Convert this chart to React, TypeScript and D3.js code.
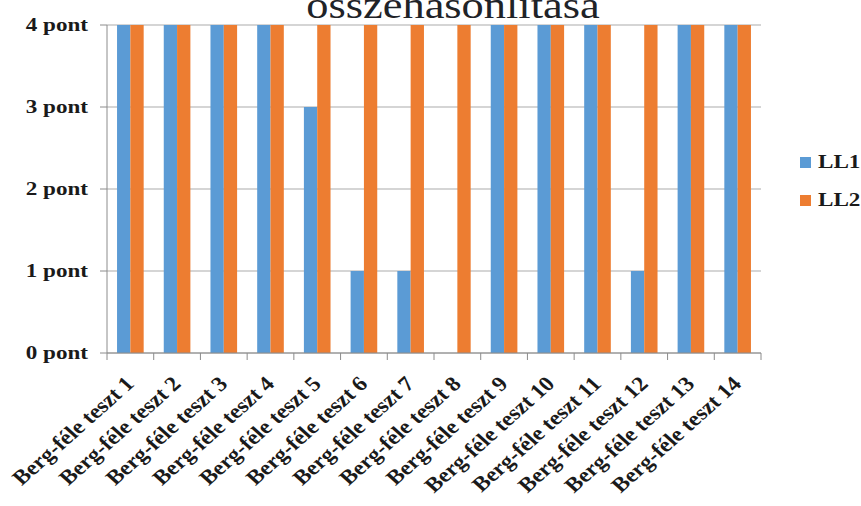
import React from "react";
import * as d3 from "d3";

const categories = [
  "Berg-féle teszt 1", "Berg-féle teszt 2", "Berg-féle teszt 3", "Berg-féle teszt 4",
  "Berg-féle teszt 5", "Berg-féle teszt 6", "Berg-féle teszt 7", "Berg-féle teszt 8",
  "Berg-féle teszt 9", "Berg-féle teszt 10", "Berg-féle teszt 11", "Berg-féle teszt 12",
  "Berg-féle teszt 13", "Berg-féle teszt 14",
];
const seriesNames = ["LL1", "LL2"];
const ll1 = [4, 4, 4, 4, 3, 1, 1, 0, 4, 4, 4, 1, 4, 4];
const ll2 = [4, 4, 4, 4, 4, 4, 4, 4, 4, 4, 4, 4, 4, 4];
const yTicks = [0, 1, 2, 3, 4];
const yTickLabels = ["0 pont", "1 pont", "2 pont", "3 pont", "4 pont"];
const title = "összehasonlítása";

const colors = ["#5B9BD5", "#ED7D31"];
const FONT = "Liberation Serif";
const SX = 1.2;
const SXY = 1.25;
const SXL = 1.12;

export default function App() {
  const W = 861, H = 506;
  const left = 107, right = 761, top = 25, bottom = 353;
  const x = d3.scaleBand<string>().domain(categories).range([left, right]).paddingInner(0.43).paddingOuter(0.215);
  const x1 = d3.scaleBand<string>().domain(seriesNames).range([0, x.bandwidth()]);
  const y = d3.scaleLinear().domain([0, 4]).range([bottom, top]);
  const step = x.step();
  const series = [ll1, ll2];

  return (
    <svg width={W} height={H} style={{ position: "absolute", left: 0, top: 0, background: "#fff" }}>
      <text
        transform={`translate(453,18) scale(${SX},1)`}
        textAnchor="middle"
        fontFamily={FONT}
        fontSize={37}
        fill="#1f2328"
      >
        {title}
      </text>
      {yTicks.map((t) => (
        <line key={"g" + t} x1={left} x2={right} y1={y(t)} y2={y(t)} stroke="#ABABAB" strokeWidth={1} />
      ))}
      {yTicks.map((t) => (
        <line key={"yt" + t} x1={left - 7} x2={left} y1={y(t)} y2={y(t)} stroke="#8C8C8C" strokeWidth={1} />
      ))}
      <line x1={left} x2={left} y1={top} y2={bottom} stroke="#8C8C8C" />
      {series.map((vals, si) =>
        categories.map((c, i) => (
          <rect
            key={si + "-" + i}
            x={(x(c) as number) + (x1(seriesNames[si]) as number)}
            y={y(vals[i])}
            width={x1.bandwidth()}
            height={bottom - y(vals[i])}
            fill={colors[si]}
          />
        ))
      )}
      <line x1={left} x2={right} y1={bottom} y2={bottom} stroke="#8C8C8C" />
      {d3.range(categories.length + 1).map((i) => (
        <line key={"xt" + i} x1={left + i * step} x2={left + i * step} y1={bottom} y2={bottom + 7} stroke="#8C8C8C" />
      ))}
      {yTicks.map((t, i) => (
        <text
          key={"yl" + t}
          transform={`translate(88,${y(t) + 6}) scale(${SXY},1)`}
          textAnchor="end"
          fontFamily={FONT}
          fontWeight="bold"
          fontSize={18.5}
          fill="#1a1a1a"
        >
          {yTickLabels[i]}
        </text>
      ))}
      {categories.map((c) => (
        <text
          key={"xl" + c}
          transform={`translate(${(x(c) as number) + x.bandwidth() / 2 + 5},385) scale(${SXL},1) rotate(-45)`}
          textAnchor="end"
          fontFamily={FONT}
          fontWeight="bold"
          fontSize={21}
          fill="#1a1a1a"
        >
          {c}
        </text>
      ))}
      {seriesNames.map((s, i) => (
        <g key={"lg" + s}>
          <rect x={800} y={157 + i * 38} width={11} height={11} fill={colors[i]} />
          <text
            transform={`translate(818,${168 + i * 38}) scale(${SXY},1)`}
            fontFamily={FONT}
            fontWeight="bold"
            fontSize={18.5}
            fill="#1a1a1a"
          >
            {s}
          </text>
        </g>
      ))}
    </svg>
  );
}
